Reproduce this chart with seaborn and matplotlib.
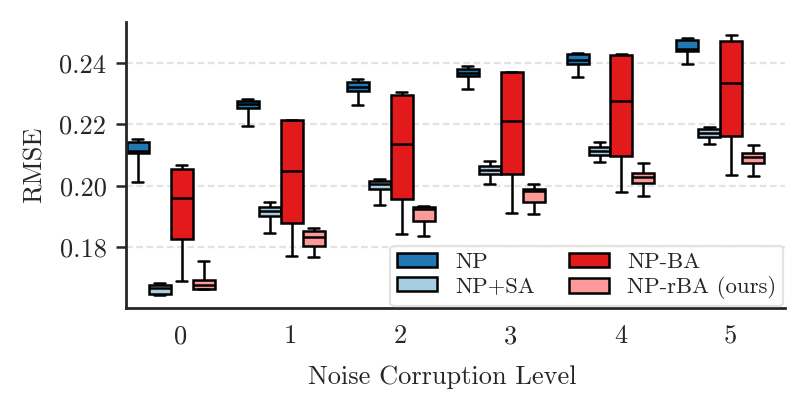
import numpy as np
import pandas as pd
import matplotlib
matplotlib.use("Agg")
import matplotlib.pyplot as plt
import seaborn as sns

# --- Data: five-number summaries (min, q1, median, q3, max) per noise level ---
levels = [0, 1, 2, 3, 4, 5]
methods = ["NP", "NP+SA", "NP-BA", "NP-rBA (ours)"]

np_stats = [
    [0.2013, 0.2106, 0.2113, 0.2142, 0.2153],
    [0.2194, 0.2254, 0.2266, 0.2277, 0.2282],
    [0.2264, 0.2310, 0.2322, 0.2339, 0.2349],
    [0.2314, 0.2356, 0.2368, 0.2381, 0.2391],
    [0.2353, 0.2398, 0.2411, 0.2429, 0.2434],
    [0.2396, 0.2438, 0.2447, 0.2476, 0.2483],
]
np_sa_stats = [
    [0.1645, 0.1646, 0.1667, 0.1676, 0.1683],
    [0.1847, 0.1902, 0.1919, 0.1929, 0.1948],
    [0.1937, 0.1990, 0.2004, 0.2016, 0.2021],
    [0.2007, 0.2039, 0.2051, 0.2065, 0.2079],
    [0.2077, 0.2101, 0.2113, 0.2127, 0.2141],
    [0.2135, 0.2158, 0.2172, 0.2184, 0.2191],
]
np_ba_stats = [
    [0.1690, 0.1827, 0.1959, 0.2053, 0.2066],
    [0.1771, 0.1877, 0.2048, 0.2214, 0.2214],
    [0.1841, 0.1957, 0.2137, 0.2296, 0.2306],
    [0.1911, 0.2037, 0.2212, 0.2370, 0.2370],
    [0.1979, 0.2097, 0.2275, 0.2426, 0.2430],
    [0.2034, 0.2161, 0.2335, 0.2473, 0.2491],
]
np_rba_stats = [
    [0.1662, 0.1662, 0.1676, 0.1693, 0.1755],
    [0.1766, 0.1802, 0.1834, 0.1853, 0.1861],
    [0.1835, 0.1885, 0.1925, 0.1929, 0.1934],
    [0.1907, 0.1948, 0.1984, 0.1988, 0.2006],
    [0.1967, 0.2008, 0.2029, 0.2041, 0.2074],
    [0.2030, 0.2073, 0.2095, 0.2106, 0.2132],
]
colors = ["#1f78b4", "#a6cee3", "#e31a1c", "#fb9a99"]
y_ticks = [0.18, 0.20, 0.22, 0.24]

# --- Long-form table for seaborn ---
rows = []
for method, stats in zip(methods, [np_stats, np_sa_stats, np_ba_stats, np_rba_stats]):
    for level, five in zip(levels, stats):
        for v in five:
            rows.append({"level": level, "method": method, "rmse": v})
df = pd.DataFrame(rows)

# --- Style ---
sns.set_style("ticks")
plt.rcParams["font.family"] = ["cmr10", "DejaVu Serif"]
plt.rcParams["mathtext.fontset"] = "cm"
plt.rcParams["axes.formatter.use_mathtext"] = True
plt.rcParams["font.size"] = 9.5

fig, ax = plt.subplots(figsize=(4.035, 2.065), dpi=200)
fig.subplots_adjust(left=0.156, right=0.973, top=0.947, bottom=0.254)

sns.boxplot(data=df, x="level", y="rmse", hue="method", hue_order=methods,
            palette=colors, whis=(0, 100), width=0.8, gap=0, fliersize=0,
            linecolor="black", linewidth=0.9, saturation=1, ax=ax)

ax.set_ylim(0.1601, 0.2534)
ax.set_yticks(y_ticks)
ax.set_yticklabels([f"{t:.2f}" for t in y_ticks])
ax.set_xlim(-0.41, 5.59)
ax.set_xticks(np.array(levels) + 0.09)
ax.set_xticklabels([str(l) for l in levels])
ax.tick_params(axis="x", length=0, pad=6)
ax.tick_params(axis="y", length=3.5, width=0.9)
ax.yaxis.grid(True, linestyle=(0, (3, 1.6)), color="#e3e3e3", linewidth=0.8)
ax.set_axisbelow(True)
for s in ["left", "bottom"]:
    ax.spines[s].set_linewidth(1.0)
sns.despine(ax=ax)

ax.set_xlabel("Noise Corruption Level")
ax.xaxis.set_label_coords(0.4795, -0.20)
ax.set_ylabel("RMSE", labelpad=4.5)

leg = ax.legend(loc="lower right", ncol=2, frameon=True, fontsize=8.2,
                handlelength=1.75, handleheight=0.6, handletextpad=0.8,
                borderaxespad=0.08, columnspacing=1.5, labelspacing=0.2,
                borderpad=0.3, fancybox=True)
leg.get_frame().set_edgecolor("#dddddd")
leg.get_frame().set_linewidth(0.8)

fig.savefig("out.png", dpi=200)
